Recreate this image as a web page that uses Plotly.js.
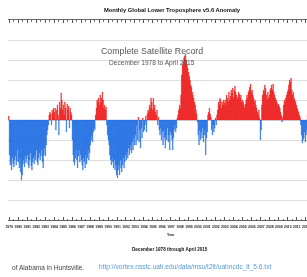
<!DOCTYPE html>
<html>
<head>
<meta charset="utf-8">
<script src="https://cdn.plot.ly/plotly-3.0.1.min.js"></script>
<style>
  html, body { margin: 0; padding: 0; width: 307px; height: 277px; overflow: hidden; background: #fff; }
  #chart { position: absolute; left: -40px; top: 0; width: 400px; height: 277px; filter: blur(0.3px); }
</style>
</head>
<body>
<div id="chart"></div>
<script>
// Monthly anomaly (deg C), December 1978 onward
const anomaly1978to1989 = [
  0.04,
  -0.35,-0.45,-0.42,-0.50,-0.38,-0.44,-0.47,-0.40,-0.36,-0.45,-0.41,-0.30,
  -0.42,-0.48,-0.38,-0.52,-0.60,-0.55,-0.44,-0.40,-0.47,-0.36,-0.43,-0.39,
  -0.35,-0.45,-0.48,-0.40,-0.33,-0.46,-0.50,-0.42,-0.38,-0.44,-0.35,-0.40,
  -0.30,-0.42,-0.45,-0.38,-0.33,-0.40,-0.36,-0.30,-0.42,-0.48,-0.35,-0.28,
  -0.36,-0.25,-0.15,-0.10,-0.05,0.05,0.08,0.06,-0.05,0.10,0.07,0.12,
  0.08,0.12,-0.10,0.10,0.15,0.05,-0.15,0.18,0.12,0.27,0.20,0.10,
  0.15,0.05,0.18,0.12,-0.12,0.16,0.10,0.14,-0.08,0.12,0.08,0.05,
  -0.20,-0.35,-0.42,-0.45,-0.38,-0.30,-0.40,-0.48,-0.36,-0.30,-0.42,-0.35,
  -0.40,-0.45,-0.50,-0.38,-0.42,-0.48,-0.35,-0.44,-0.38,-0.30,-0.40,-0.33,
  -0.25,-0.20,-0.15,-0.22,-0.12,-0.08,-0.10,0.05,0.12,0.20,0.18,0.22,
  0.15,0.25,0.18,0.22,0.28,0.20,0.12,0.15,0.10,0.13,-0.05,-0.15
];
const anomaly1990s = [
  -0.20,-0.25,-0.35,-0.40,-0.45,-0.38,-0.42,-0.48,-0.40,-0.50,-0.45,-0.55,
  -0.58,-0.50,-0.45,-0.55,-0.40,-0.48,-0.52,-0.45,-0.38,-0.48,-0.42,-0.35,
  -0.40,-0.32,-0.38,-0.28,-0.35,-0.30,-0.25,-0.33,-0.22,-0.30,-0.18,-0.25,
  -0.15,-0.25,-0.05,-0.20,0.03,-0.22,-0.10,-0.28,-0.08,-0.18,0.02,-0.12,
  -0.10,-0.05,0.04,-0.12,0.06,0.10,0.08,0.15,0.12,0.22,0.18,0.10,
  0.22,0.12,0.15,0.08,0.05,0.10,-0.05,0.03,-0.10,-0.15,-0.08,-0.20,
  -0.12,-0.25,-0.10,-0.18,-0.28,-0.15,-0.20,-0.08,-0.22,-0.15,-0.30,-0.12,
  -0.15,-0.20,-0.30,-0.18,-0.10,-0.05,-0.12,-0.08,0.02,0.05,0.10,0.15,
  0.12,0.25,0.45,0.55,0.58,0.62,0.64,0.66,0.60,0.56,0.52,0.48,
  0.44,0.40,0.35,0.33,0.28,0.25,0.22,0.18,0.15,0.10,0.06,-0.02
];
const anomaly2000s = [
  -0.15,-0.25,-0.10,-0.20,-0.12,-0.18,-0.08,-0.22,-0.15,-0.10,-0.35,-0.18,
  -0.12,0.05,0.08,0.12,0.06,0.03,-0.10,-0.15,-0.05,-0.12,-0.08,0.02,
  -0.05,0.05,0.10,0.18,0.15,0.22,0.20,0.12,0.18,0.15,0.20,0.17,
  0.20,0.15,0.25,0.22,0.18,0.28,0.20,0.24,0.30,0.27,0.32,0.22,
  0.30,0.34,0.28,0.25,0.20,0.23,0.28,0.26,0.22,0.25,0.18,0.20,
  0.18,0.15,0.12,0.16,0.20,0.25,0.22,0.28,0.30,0.33,0.36,0.28,
  0.30,0.25,0.22,0.18,0.20,0.15,0.12,0.08,0.05,0.10,0.02,-0.20,
  -0.10,0.15,0.25,0.30,0.28,0.35,0.32,0.25,0.20,0.28,0.22,0.25,
  0.30,0.32,0.35,0.30,0.36,0.28,0.25,0.22,0.20,0.18,0.15,0.16,
  0.14,0.12,0.08,0.05,-0.02,0.03,0.15,0.20,0.18,0.22,0.25,0.28
];
const anomaly2010s = [
  0.30,0.35,0.40,0.38,0.42,0.30,0.25,0.28,0.22,0.20,0.18,0.15,
  0.12,0.10,0.08,0.05,0.03,-0.05,-0.15,-0.23,-0.20,-0.18,-0.12,-0.22,
  -0.15,-0.10,0.05,0.10,0.15,0.20,0.22,0.28,0.30,0.25,0.20,0.15,
  0.25,0.20,0.12,0.10,0.08,0.25,0.15,0.12,0.30,0.25,0.22,0.18,
  0.18,0.15,0.15,0.25,0.30,0.28,0.30,0.20,0.28,0.25,0.30,0.32,
  0.30,0.18,0.15,0.05
];
const startYear = 1978, startMonth = 12;
const titleText = 'Monthly Global Lower Troposphere v5.6 Anomaly';
const insetTitle = 'Complete Satellite Record';
const insetSub = 'December 1978 to April 2015';
const xTitle = 'Year';
const periodText = 'December 1978 through April 2015';
const sourceText = 'of Alabama in Huntsville.';
const linkText = 'http://vortex.nsstc.uah.edu/data/msu/t2lt/uahncdc_lt_5.6.txt';

const values = [].concat(anomaly1978to1989, anomaly1990s, anomaly2000s, anomaly2010s);
const dates = values.map((_, i) => {
  const m = (startMonth - 1) + i;
  const y = startYear + Math.floor(m / 12);
  const mo = (m % 12) + 1;
  return y + '-' + String(mo).padStart(2, '0') + '-15';
});
const colors = values.map(v => v >= 0 ? '#ee1b1b' : '#1f6de3');

const font = 'Arial, "Liberation Sans", sans-serif';
const trace = {
  type: 'bar', x: dates, y: values,
  marker: { color: colors, line: { width: 0.35, color: colors } },
  hoverinfo: 'x+y'
};
const layout = {
  width: 400, height: 277,
  margin: { l: 48, r: 24, t: 20, b: 57 },
  paper_bgcolor: '#ffffff', plot_bgcolor: '#ffffff',
  bargap: 0,
  showlegend: false,
  title: {
    text: '<b>' + titleText + '</b>',
    font: { family: font, size: 5.8, color: '#111' },
    x: 0.5, xref: 'paper', xanchor: 'center',
    y: 1 - 10 / 277, yref: 'container', yanchor: 'middle'
  },
  xaxis: {
    type: 'date',
    range: ['1978-11-15', '2015-05-15'],
    dtick: 'M12', tick0: '1979-01-01', tickformat: '%Y',
    ticks: 'inside', ticklen: 3, tickcolor: '#555', tickwidth: 1,
    minor: { ticks: 'inside', ticklen: 1.5, dtick: 'M6', tickcolor: '#777' },
    showline: true, linecolor: '#666', linewidth: 1, mirror: 'ticks',
    showgrid: false, zeroline: false,
    ticklabelstandoff: 3,
    tickfont: { family: font, size: 3.4, color: '#222', weight: 'bold' },
    tickangle: 0
  },
  yaxis: {
    range: [-1, 1], dtick: 0.2,
    showgrid: true, gridcolor: '#dedede', gridwidth: 1,
    zeroline: false, showticklabels: false, ticks: '',
    showline: false
  },
  annotations: [
    { text: insetTitle, xref: 'paper', yref: 'paper', x: 0.439, y: 0.845, yanchor: 'middle', xanchor: 'center',
      showarrow: false, font: { family: font, size: 8.8, color: '#555' } },
    { text: insetSub, xref: 'paper', yref: 'paper', x: 0.439, y: 0.785, yanchor: 'middle', xanchor: 'center',
      showarrow: false, font: { family: font, size: 6.6, color: '#555' } },
    { text: '<b>' + xTitle + '</b>', xref: 'paper', yref: 'paper', x: 0.497, y: -0.075, yanchor: 'middle', xanchor: 'center',
      showarrow: false, font: { family: font, size: 3.5, color: '#222' } },
    { text: '<b>' + periodText + '</b>', xref: 'paper', yref: 'paper', x: 0.494, y: -0.145, yanchor: 'middle', xanchor: 'center',
      showarrow: false, font: { family: font, size: 4.6, color: '#111' } },
    { text: sourceText, xref: 'paper', yref: 'paper', x: 0.006, y: -0.235, xanchor: 'left', yanchor: 'middle',
      showarrow: false, font: { family: font, size: 6.6, color: '#444' } },
    { text: linkText, xref: 'paper', yref: 'paper', x: 0.271, y: -0.235, xanchor: 'left', yanchor: 'middle',
      showarrow: false, font: { family: font, size: 6.6, color: '#5a9ad8' } }
  ]
};
Plotly.newPlot('chart', [trace], layout, { displayModeBar: false, staticPlot: true });
</script>
</body>
</html>
